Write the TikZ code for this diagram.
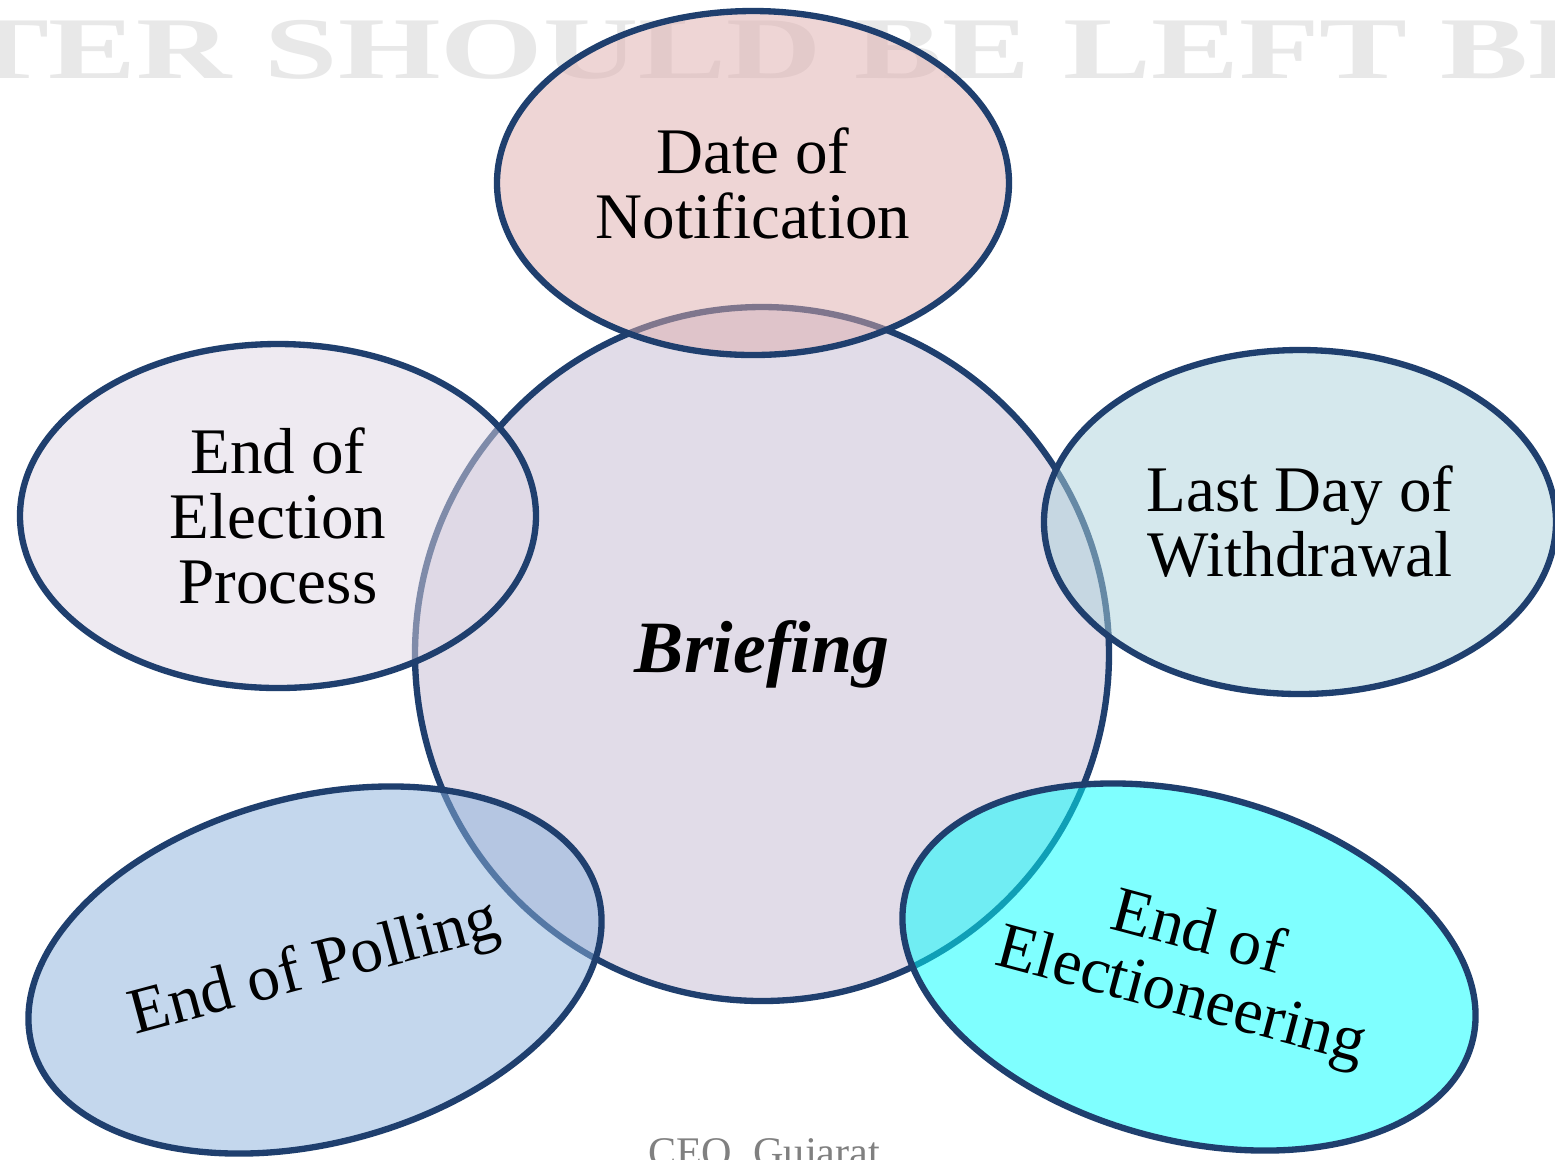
\documentclass[tikz,border=0pt]{standalone}
\usepackage{fontspec}
\setmainfont[Ligatures=CommonOff]{Liberation Serif}
\usetikzlibrary{shapes.geometric}

\definecolor{rim}{RGB}{31,63,110}
\definecolor{briefcol}{RGB}{197,187,211}
\definecolor{notifcol}{RGB}{223,173,173}
\definecolor{processcol}{RGB}{223,215,229}
\definecolor{withdrawcol}{RGB}{173,211,221}
\definecolor{pollcol}{RGB}{139,177,221}
\definecolor{campaigncol}{RGB}{0,255,255}

\begin{document}
\begin{tikzpicture}[
    stage/.style={draw=rim, line width=1.8pt, ellipse, fill opacity=0.5,
      text opacity=1, align=center, inner sep=0pt,
      font=\fontsize{18.5}{18.5}\selectfont}]
  \useasboundingbox (0,0) rectangle (15.55,-11.59);
  \fill[white] (0,0) rectangle (15.55,-11.59);
  % faint background print
  \node[anchor=base west, inner sep=0pt, xscale=1.5, text=black!9,
        font=\bfseries\fontsize{25}{25}\selectfont] (blank) at (-0.40,-0.78) {TER SHOULD BE LEFT BL};
  \node[anchor=base, inner sep=0pt, text=black!50,
        font=\fontsize{12}{12}\selectfont] (ceo) at (7.64,-11.66) {CEO, Gujarat};
  % centre
  \node[draw=rim, line width=1.8pt, circle, fill=briefcol, fill opacity=0.5,
        text opacity=1, minimum size=6.94cm,
        font=\bfseries\itshape\fontsize{21}{21}\selectfont] (briefing) at (7.62,-6.54) {Briefing};
  % stages round it
  \node[stage, fill=notifcol,    minimum width=5.12cm, minimum height=3.44cm]            (notif)    at ( 7.53,-1.83) {Date of\\Notification};
  \node[stage, fill=processcol,  minimum width=5.16cm, minimum height=3.44cm]            (process)  at ( 2.78,-5.16) {End of\\Election\\Process};
  \node[stage, fill=withdrawcol, minimum width=5.12cm, minimum height=3.44cm]            (withdraw) at (13.00,-5.22) {Last Day of\\Withdrawal};
  \node[stage, fill=pollcol,     minimum width=5.86cm, minimum height=3.46cm, rotate=15]  (polling)  at ( 3.15,-9.70) {End of Polling};
  \node[stage, fill=campaigncol, minimum width=5.86cm, minimum height=3.46cm, rotate=-15] (campaign) at (11.89,-9.67) {End of\\Electioneering};
\end{tikzpicture}
\end{document}
